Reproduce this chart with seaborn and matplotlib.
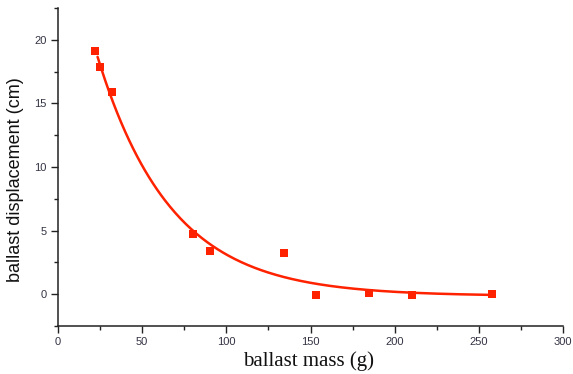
import numpy as np
import pandas as pd
import matplotlib
matplotlib.use("Agg")
import matplotlib.pyplot as plt
import seaborn as sns
from matplotlib.ticker import MultipleLocator

mass_g = [22, 25, 32, 80, 90, 134, 153, 185, 210, 258]
displacement_cm = [19.1, 17.9, 15.9, 4.7, 3.4, 3.2, -0.05, 0.08, -0.05, 0.05]

x_ticks = [0, 50, 100, 150, 200, 250, 300]
y_ticks = [0, 5, 10, 15, 20]

RED = "#ff2200"

# Exponential decay fit y = y0 + A*exp(-x/t) (grid search on t, least squares for A, y0)
xd = np.array(mass_g, float)
yd = np.array(displacement_cm, float)
best = None
for t in np.linspace(10, 150, 1401):
    M = np.column_stack([np.ones_like(xd), np.exp(-xd / t)])
    coef, *_ = np.linalg.lstsq(M, yd, rcond=None)
    r = np.sum((M @ coef - yd) ** 2)
    if best is None or r < best[0]:
        best = (r, t, coef)
_, t_fit, (y0_fit, a_fit) = best
xf = np.linspace(min(mass_g) + 1.5, max(mass_g), 300)
fit_df = pd.DataFrame({"x": xf, "y": y0_fit + a_fit * np.exp(-xf / t_fit)})
pts = pd.DataFrame({"x": mass_g, "y": displacement_cm})

sns.set_theme(style="ticks")
plt.rcParams["font.family"] = ["Liberation Sans", "DejaVu Sans"]

fig = plt.figure(figsize=(5.73, 3.74), dpi=100)
ax = fig.add_axes([58 / 573, 48 / 374, 505 / 573, 318 / 374])

sns.lineplot(data=fit_df, x="x", y="y", ax=ax, color=RED, linewidth=1.8, zorder=2)
sns.scatterplot(data=pts, x="x", y="y", ax=ax, color=RED, marker="s", s=38,
                linewidth=0, zorder=3)

ax.set_xlim(0, 300)
ax.set_ylim(-2.5, 22.5)
ax.set_xticks(x_ticks)
ax.set_yticks(y_ticks)
ax.xaxis.set_minor_locator(MultipleLocator(25))
ax.yaxis.set_minor_locator(MultipleLocator(2.5))
ax.tick_params(axis="both", which="major", direction="out", length=5, width=1,
               labelsize=8, colors="#222222", pad=3)
ax.tick_params(axis="both", which="minor", direction="out", length=3, width=1,
               colors="#222222")
for lab in ax.get_xticklabels() + ax.get_yticklabels():
    lab.set_color("#333344")

for side in ["top", "right"]:
    ax.spines[side].set_visible(False)
for side in ["left", "bottom"]:
    ax.spines[side].set_linewidth(1.1)
    ax.spines[side].set_color("#222222")

ax.set_xlabel("ballast mass (g)", fontsize=15, family=["Liberation Serif"],
              color="#111111")
ax.set_ylabel("ballast displacement (cm)", fontsize=13, family=["Liberation Sans"],
              color="#111111")
ax.xaxis.set_label_coords(0.497, -0.08)
ax.yaxis.set_label_coords(-0.067, 0.46)

fig.savefig("out.png", dpi=100)
